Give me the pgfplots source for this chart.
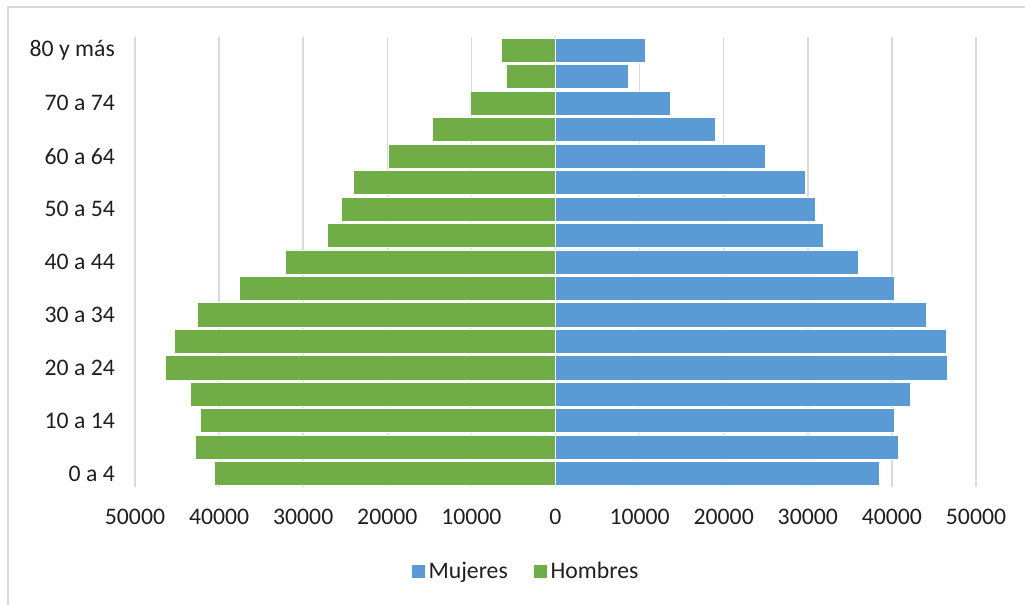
\documentclass[border=0pt]{standalone}
\usepackage{fontspec}
\setmainfont{Carlito}
\usepackage{pgfplots}
\usepackage{pgfplotstable}
\pgfplotsset{compat=1.18}

\definecolor{mujeres}{HTML}{5B9BD5}
\definecolor{hombres}{HTML}{70AD47}
\definecolor{gridgray}{HTML}{D9D9D9}

% age group index (0 = 0 a 4 ... 16 = 80 y mas), population
\pgfplotstableread{
idx val
0  38500
1  40760
2  40280
3  42220
4  46650
5  46500
6  44120
7  40240
8  36040
9  31880
10 30850
11 29710
12 24990
13 19010
14 13660
15 8630
16 10650
}\mujerestable

\pgfplotstableread{
idx val
0  -40570
1  -42830
2  -42270
3  -43460
4  -46390
5  -45280
6  -42590
7  -37600
8  -32130
9  -27170
10 -25470
11 -24040
12 -19830
13 -14650
14 -10170
15 -5890
16 -6400
}\hombrestable

\begin{document}
\begin{tikzpicture}
    % 1 px of the reference = 0.75pt
    \useasboundingbox (0pt,0pt) rectangle (768.75pt,453.75pt);
    \draw[gridgray, line width=0.9pt] (6pt,-5pt) -- (6pt,448.5pt) -- (775pt,448.5pt);
    \begin{axis}[
            at={(101.25pt,88.5pt)},
            anchor=south west,
            scale only axis,
            width=630.75pt,
            height=337.5pt,
            xmin=-50000, xmax=50000,
            ymin=-0.5, ymax=16.5,
            scaled x ticks=false,
            xtick={-50000,-40000,-30000,-20000,-10000,0,10000,20000,30000,40000,50000},
            xticklabels={50000,40000,30000,20000,10000,0,10000,20000,30000,40000,50000},
            ytick={0,2,4,6,8,10,12,14,16},
            yticklabels={0 a 4,10 a 14,20 a 24,30 a 34,40 a 44,50 a 54,60 a 64,70 a 74,80 y más},
            /pgf/number format/assume math mode=true,
            font=\fontsize{17.8}{21}\selectfont,
            tick label style={text=black!88},
            xticklabel style={yshift=-13pt},
            yticklabel style={xshift=-11.6pt},
            major tick length=0pt,
            axis line style={draw=none},
            xmajorgrids=true,
            grid style={gridgray, line width=1.1pt},
            xbar,
            bar shift=0pt,
            bar width=0.91,
            legend columns=2,
            legend cell align=left,
            legend style={
                at={(0.465,-0.1867)}, anchor=center,
                draw=none, fill=none,
                text=black!88,
                /tikz/every even column/.append style={column sep=17pt},
            },
            legend image code/.code={
                \fill[#1] (0pt,-5.25pt) rectangle (10.5pt,5.25pt);
            },
        ]
        \addplot[fill=mujeres, draw=white, line width=0.6pt] table[x=val, y=idx] {\mujerestable};
        \addlegendentry{Mujeres}
        \addplot[fill=hombres, draw=white, line width=0.6pt] table[x=val, y=idx] {\hombrestable};
        \addlegendentry{Hombres}
    \end{axis}
\end{tikzpicture}
\end{document}
